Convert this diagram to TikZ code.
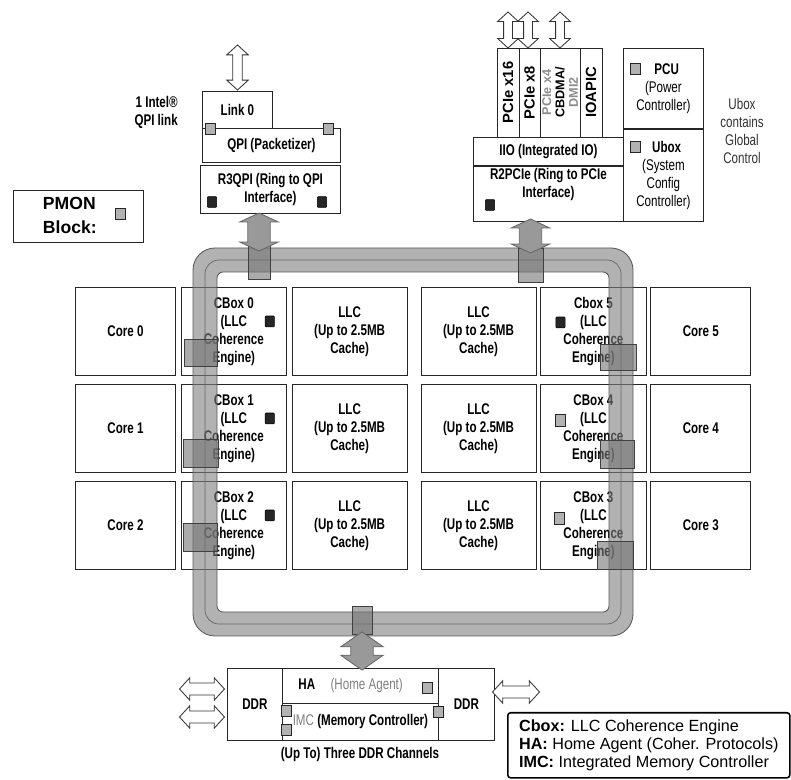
\documentclass[tikz,border=0pt]{standalone}
\usepackage{fontspec}
\setmainfont{Liberation Sans}
\newfontfamily\diafont[FakeStretch=0.75]{Liberation Sans}
\usepackage{tikz}
\usetikzlibrary{shapes.arrows,positioning,calc}
\tikzset{
  blk/.style={draw=black!85, line width=0.6pt, fill=white, inner sep=1pt, align=center, font=\diafont\bfseries\fontsize{11}{12.8}\selectfont},
  cell/.style={blk, minimum height=2.2cm, anchor=north west},
  corecell/.style={cell, minimum width=2.5cm},
  cboxcell/.style={cell, minimum width=2.625cm},
  llccell/.style={cell, minimum width=2.875cm},
  colcell/.style={blk, rotate=90, minimum width=2.225cm, font=\bfseries\fontsize{10.5}{10}\selectfont},
  pmonsq/.style={draw=black!85, fill=black!30, line width=0.6pt, minimum width=0.25cm, minimum height=0.29cm, inner sep=0pt},
  pmonblk/.style={draw=black, fill=black!85, rounded corners=0.6pt, minimum width=0.23cm, minimum height=0.27cm, inner sep=0pt},
  ringbody/.style={draw=black!65, line width=0.6pt, fill=black!50, fill opacity=0.6, even odd rule},
  ringstop/.style={draw=black!75, line width=0.6pt, fill=black!55, fill opacity=0.6},
  ioarrow/.style={double arrow, draw=black!80, fill=white, line width=0.6pt, inner sep=0.11cm, double arrow head extend=0.15cm, double arrow tip angle=95},
  ringlink/.style={double arrow, draw=black!60, fill=black!40, line width=0.6pt, inner sep=0.27cm, double arrow head extend=0.2cm, double arrow tip angle=130},
  plain/.style={font=\diafont\bfseries\fontsize{11}{12.8}\selectfont, align=center, inner sep=0pt},
}
\begin{document}
\begin{tikzpicture}[x=0.025cm, y=-0.025cm]
  \useasboundingbox (0,0) rectangle (791,780);
  \fill[white] (0,0) rectangle (791,780);

  % core / cbox / llc grid
  \foreach \r in {0,1,2}{
    \pgfmathtruncatemacro{\q}{5-\r}
    \node[corecell] (core\r) at (75,{287+97*\r}) {Core \r};
    \node[cboxcell, right=0.125cm of core\r] (cbox\r) {CBox \r\\(LLC\\Coherence\\Engine)};
    \node[llccell, right=0.125cm of cbox\r] (llcL\r) {LLC\\(Up to 2.5MB\\Cache)};
    \node[llccell, right=0.325cm of llcL\r] (llcR\r) {LLC\\(Up to 2.5MB\\Cache)};
    \node[cboxcell, right=0.1cm of llcR\r] (cbox\q) {\ifnum\q=5 Cbox\else CBox\fi{} \q\\(LLC\\Coherence\\Engine)};
    \node[corecell, right=0.1cm of cbox\q] (core\q) {Core \q};
  }
  \foreach \r in {0,1,2}
    \node[pmonblk] at ($(cbox\r.center)+(36,-10)$) {};
  \node[pmonblk] at ($(cbox5.center)+(-33,-9)$) {};
  \node[pmonsq] at ($(cbox4.center)+(-33,-8)$) {};
  \node[pmonsq] at ($(cbox3.center)+(-34,-7)$) {};

  % ring
  \path[ringbody] [rounded corners=0.55cm] (193,248) rectangle (633,636)
    [rounded corners=0.15cm] (217,272) rectangle (609,612);
  \draw[black!60, line width=0.5pt, rounded corners=0.35cm] (205,260) rectangle (621,624);
  \foreach \a/\b/\c/\d in {184/339/217/366, 183/439/218/467, 183/523/217/551,
                           600/344/636/370, 600/440/634/468, 597/541/633/569,
                           248/245/270/279, 518/248/543/282, 352/606/372/634}
    \draw[ringstop] (\a,\b) rectangle (\c,\d);

  % QPI side
  \node[blk, minimum width=1.75cm, minimum height=0.925cm, anchor=north west] (link0) at (202,91) {Link 0};
  \node[blk, minimum width=3.45cm, minimum height=0.85cm, anchor=north west] (qpi) at (202,128) {QPI (Packetizer)};
  \node[blk, minimum width=3.5cm, minimum height=1.2cm, anchor=north west] (r3qpi) at (200,165) {R3QPI (Ring to QPI\\Interface)};
  \node[pmonsq] at (210.5,129) {};
  \node[pmonsq] at (328,129) {};
  \node[pmonblk] at (212,202) {};
  \node[pmonblk] at (322,202) {};
  \node[plain, align=right, anchor=east] (qpilbl) at (178,112) {1 Intel®\\QPI link};
  \node[ioarrow, rotate=90, minimum height=1.125cm] (qpiext) at (237.5,67.5) {};
  \node[ringlink, rotate=90, minimum height=0.95cm] (qpiring) at (259,232) {};

  % PMON legend
  \node[draw=black!85, line width=0.6pt, minimum width=3.25cm, minimum height=1.3cm, anchor=north west] (pmon) at (13,190) {};
  \node[font=\bfseries\fontsize{12.5}{17.5}\selectfont, align=left, anchor=west] (pmontxt) at (38,215.5) {PMON\\Block:};
  \node[pmonsq] at (120,214) {};

  % IIO side
  \node[colcell, minimum height=0.55cm] (pcie16) at (508,92.5) {PCIe x16};
  \node[colcell, minimum height=0.525cm] (pcie8) at (529.5,92.5) {PCIe x8};
  \node[colcell, minimum height=1cm, font=\bfseries\fontsize{9}{9.5}\selectfont] (cbdma) at (560,92.5) {\textcolor{black!45}{PCIe x4}\\CBDMA/\\\textcolor{black!45}{DMI2}};
  \node[colcell, minimum height=0.55cm] (ioapic) at (591,92.5) {IOAPIC};
  \node[blk, minimum width=3.75cm, minimum height=0.7cm, anchor=north west] (iio) at (473,137) {IIO (Integrated IO)};
  \node[blk, minimum width=3.75cm, minimum height=1.375cm, below=0cm of iio] (r2pcie) {R2PCIe (Ring to PCIe\\Interface)\\[3pt]};
  \node[pmonblk] at (490,205) {};
  \foreach \x in {508,528,560}
    \node[ioarrow, rotate=90, minimum height=0.9cm, inner sep=0.1cm, double arrow head extend=0.15cm] at (\x,30) {};
  \node[ringlink, rotate=90, minimum height=0.85cm] (pciering) at (530.5,236) {};

  % PCU / Ubox
  \node[blk, minimum width=2cm, minimum height=2cm, anchor=north west] (pcu) at (623,48) {\ \ PCU\\\mdseries(Power\\\mdseries Controller)};
  \node[blk, minimum width=2cm, minimum height=2.3cm, below=0cm of pcu] (ubox) {\ \ Ubox\\\mdseries(System\\\mdseries Config\\\mdseries Controller)};
  \node[pmonsq] at (635,69) {};
  \node[pmonsq] at (635,147) {};
  \node[plain, font=\diafont\fontsize{11}{12.8}\selectfont, text=black!80] (uboxnote) at (742,131) {Ubox\\contains\\Global\\Control};

  % memory side
  \node[blk, minimum width=1.375cm, minimum height=1.8cm, anchor=north west] (ddrL) at (227,668) {DDR};
  \node[blk, minimum width=3.9cm, minimum height=0.875cm, anchor=north west] (ha) at (282,668) {HA\quad\mdseries\textcolor{black!50}{(Home Agent)}\hspace{14pt}};
  \node[blk, minimum width=3.9cm, minimum height=0.925cm, anchor=north west] (imc) at (282,703) {\textcolor{black!50}{\mdseries IMC} (Memory Controller)};
  \node[blk, minimum width=1.4cm, minimum height=1.8cm, anchor=north west] (ddrR) at (438,668) {DDR};
  \node[pmonsq] at (427,688) {};
  \node[pmonsq] at (286,711) {};
  \node[pmonsq] at (286,730) {};
  \node[pmonsq] at (438,712) {};
  \node[ringlink, rotate=90, minimum height=0.9cm, double arrow head extend=0.25cm, double arrow tip angle=110] (haring) at (362,651) {};
  \node[ioarrow, minimum height=1.125cm, inner sep=0.14cm, double arrow head extend=0.13cm] (ddrA) at (202,689) {};
  \node[ioarrow, minimum height=1.125cm, inner sep=0.14cm, double arrow head extend=0.13cm] (ddrB) at (202,717) {};
  \node[ioarrow, minimum height=1.175cm, inner sep=0.14cm, double arrow head extend=0.13cm] (ddrC) at (516,692) {};
  \node[plain] (ddrlbl) at (360,755) {(Up To) Three DDR Channels};

  % key
  \node[draw=black, line width=1.1pt, rounded corners=2pt, anchor=north west, minimum width=7.05cm, minimum height=1.625cm, align=left, font=\fontsize{11.5}{13}\selectfont] (key) at (507,712)
    {\textbf{Cbox:} LLC Coherence Engine\\\textbf{HA:} Home Agent (Coher. Protocols)\\\textbf{IMC:} Integrated Memory Controller};
\end{tikzpicture}
\end{document}
